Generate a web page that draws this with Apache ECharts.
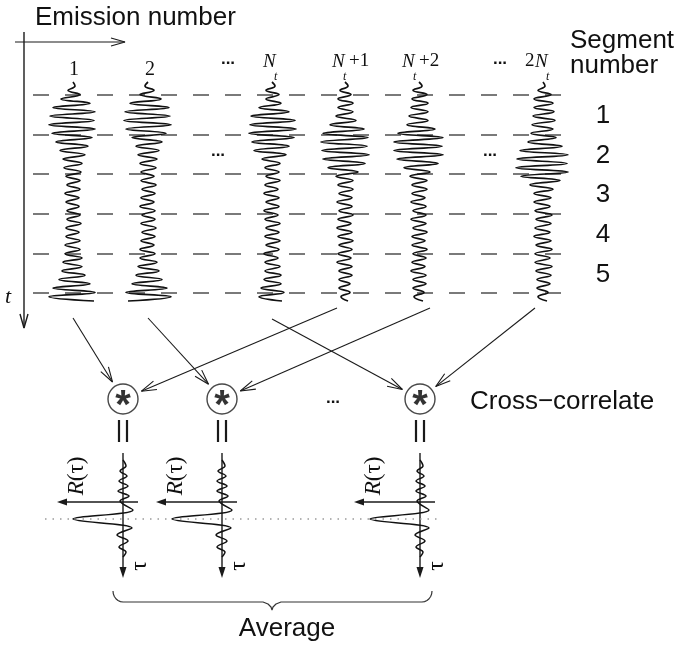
<!DOCTYPE html>
<html><head><meta charset="utf-8">
<script src="https://cdn.jsdelivr.net/npm/echarts@6/dist/echarts.min.js"></script>
<style>html,body{margin:0;padding:0;background:#fff}#c{width:678px;height:650px}</style>
</head><body><div id="c"></div><script>
// ---------- data ----------
const traceCenters = [73, 148, 272, 345, 419, 543];          // emission columns
const segmentBounds = [95, 135, 174, 214, 254, 293];        // segment boundaries (time)
const segmentLabels = ['1', '2', '3', '4', '5'];
const sampleStart = 86, sampleStep = 4.3;                   // time of first peak, peak spacing
const trace1   = [2,-5,7,-12,17,-20,22,-23,21,-24,22,-21,19,-17,15,-13,12,-10,9,-9,8,-7,7,-6,7,-8,6,-7,6,-6,7,-6,8,-7,6,-7,7,-8,7,-8,9,-10,9,-11,12,-14,17,-20,22,-24,21];
const trace2   = [-3,6,-8,13,-18,21,-23,22,-24,23,-22,18,-16,14,-12,11,-10,9,-8,8,-7,6,-7,8,-6,7,-7,6,-8,7,-6,7,-7,8,-6,7,-7,6,-8,7,-8,9,-10,11,-12,14,-16,19,-22,23,-20];
const traceNt  = [3,-6,7,-6,9,-13,17,-21,23,-22,24,-23,22,-20,17,-18,14,-10,8,-7,7,-6,8,-7,6,-8,7,-6,7,-8,6,-7,8,-6,7,-7,8,-6,7,-8,6,-7,8,-7,9,-8,9,-11,12,-13,10];
const traceNt1 = [3,-5,6,-7,8,-7,8,-9,11,-15,19,-22,23,-24,22,-23,24,-22,20,-17,13,-9,8,-7,8,-6,7,-8,7,-6,8,-7,6,-8,7,-7,8,-6,7,-7,6,-8,7,-6,7,-6,5,-6,5,-4,3];
const traceNt2 = [3,-6,8,-7,9,-8,9,-10,9,-12,16,-21,24,-25,23,-25,24,-22,19,-15,11,-9,8,-7,8,-7,6,-8,7,-6,7,-8,7,-6,8,-7,6,-7,8,-6,7,-7,6,-8,7,-6,7,-6,5,-5,4];
const trace2Nt = [2,-5,8,-9,10,-9,11,-10,12,-11,10,-12,13,-15,19,-23,25,-26,24,-27,25,-22,17,-13,10,-9,8,-9,7,-8,9,-7,8,-8,7,-9,8,-7,9,-8,7,-8,9,-7,8,-6,7,-6,5,-5,4];
const traces = [trace1, trace2, traceNt, traceNt1, traceNt2, trace2Nt];

const correlatorX = [123, 222, 420];
const correlatorY = 399;
const links = [[0,0],[3,0],[1,1],[4,1],[2,2],[5,2]];          // [trace, correlator]
const linkStartY = [318, 308, 318, 308, 319, 308];
const linkNudge  = [0, -8, 0, 11, 0, -8];

const corrTau = [460,466,471,476,481,486,491,496,501,510,519,528,535,541,547,552,557];
const corr1 = [0,3,-3,4,-4,5,-5,6,-3,10,-50,9,-6,5,-4,3,0];
const corr2 = [0,3,-4,4,-5,5,-5,6,-3,10,-50,9,-6,5,-5,3,0];
const corr3 = [0,3,-3,4,-4,5,-4,6,-3,9,-50,9,-5,5,-4,3,0];
const corrs = [corr1, corr2, corr3];
const corrAxisY = 502, peakLevel = 519;

// ---------- drawing ----------
const INK = '#1a1a1a';
const series = [];
function seg(pts, w, color, type) {
  series.push({type:'line', data: pts, showSymbol:false, symbol:'none', silent:true, animation:false,
    lineStyle:{width:w||1.2, color: color||INK, type: type||'solid'}, z:3});
}
function head(x1,y1,x2,y2,len,half){
  const dx=x2-x1, dy=y2-y1, L=Math.hypot(dx,dy), ux=dx/L, uy=dy/L;
  const bx=x2-ux*len, by=y2-uy*len;
  return [[bx-uy*half, by+ux*half],[x2,y2],[bx+uy*half, by-ux*half]];
}
function openArrow(x1,y1,x2,y2,len,half,w){ seg([[x1,y1],[x2,y2]], w); seg(head(x1,y1,x2,y2,len,half), w); }
const filledHeads = [];

// dashed segment boundaries
segmentBounds.forEach(y => seg([[33,y],[563,y]], 1.3, '#333', [16,16]));

// traces
traces.forEach((tr, k) => {
  const c = traceCenters[k];
  const pts = [[c, sampleStart - 4]].concat(tr.map((v,i)=>[c+v, sampleStart + i*sampleStep]));
  series.push({type:'line', data: pts, smooth:0.45, showSymbol:false, symbol:'none', silent:true, animation:false,
    lineStyle:{width:1.7, color:'#111'}, z:4});
});

// axes of the top panel
openArrow(15,42,125,42,14,4,1.2);
openArrow(24,32,24,328,14,4,1.4);

// links from traces to correlators
links.forEach(([t,c], i) => {
  const sx = traceCenters[t] + linkNudge[i], sy = linkStartY[i];
  const cx = correlatorX[c], cy = correlatorY;
  const dx = cx - sx, dy = cy - sy, L = Math.hypot(dx, dy);
  const ex = cx - dx/L*20, ey = cy - dy/L*20;
  openArrow(sx, sy, ex, ey, 15, 4.5, 1.1);
});

// correlators: "=" and R(tau) plots
correlatorX.forEach((c, k) => {
  seg([[c-4,420],[c-4,442]], 2.2);
  seg([[c+4,420],[c+4,442]], 2.2);
  seg([[c,453],[c,570]], 1.4);
  filledHeads.push(head(c,453,c,578,11,3.5));
  seg([[c+15,corrAxisY],[c-58,corrAxisY]], 1.4);
  filledHeads.push(head(c+15,corrAxisY,c-66,corrAxisY,10,3.5));
  series.push({type:'line', data: corrs[k].map((v,i)=>[c+v, corrTau[i]]), smooth:0.35, showSymbol:false, symbol:'none',
    silent:true, animation:false, lineStyle:{width:1.5, color:'#111'}, z:4});
});
// dotted peak level
seg([[45,peakLevel],[440,peakLevel]], 1.4, '#9a9a9a', [1.5,6]);

// brace
(function(){
  const L = 113, R = 432, tip = 272, top = 591, mid = 602, r = 10, pts = [];
  for (let a = 180; a >= 90; a -= 15) { const t=a*Math.PI/180; pts.push([L+r+r*Math.cos(t), top+r*Math.sin(t)*(mid-top)/r]); }
  pts.push([tip-9, mid],[tip-4, mid+2],[tip-1, mid+5],[tip, mid+8],[tip+1, mid+5],[tip+4, mid+2],[tip+9, mid]);
  for (let a = 90; a >= 0; a -= 15) { const t=a*Math.PI/180; pts.push([R-r+r*Math.cos(Math.PI-t)*-1, top+r*Math.sin(t)*(mid-top)/r]); }
  seg(pts, 1.2, '#333');
})();

series.push({type:'custom', silent:true, animation:false, z:5, data: filledHeads.map((_,i)=>[i]),
  renderItem: (params, api) => ({type:'polygon', shape:{points: filledHeads[params.dataIndex].map(p=>api.coord(p))}, style:{fill:INK}})});

// correlator circles
series.push({type:'scatter', data: correlatorX.map(x=>[x, correlatorY]), symbol:'circle', symbolSize:30, silent:true, animation:false, z:6,
  itemStyle:{color:'#fff', borderColor:INK, borderWidth:1.4},
  label:{show:true, position:'inside', formatter:'*', fontFamily:'Liberation Sans', fontWeight:'bold', fontSize:40, color:'#000', offset:[0,8]}});

// ---------- texts ----------
const SANS = 'Liberation Sans', SERIF = 'Liberation Serif';
const graphic = [];
function txt(s, x, y, o) {
  o = o || {};
  graphic.push({type:'text', x, y, rotation:o.rot||0, silent:true, z:10,
    style:{text:s, fontFamily:o.ff||SANS, fontSize:o.fs||26, fontStyle:o.it?'italic':'normal', fontWeight:o.fw||'normal',
      fill:o.color||'#111', align:o.align||'left', verticalAlign:'middle', rich:o.rich}});
}
txt('Emission number', 35, 18);
txt('Segment', 570, 41);
txt('number', 570, 66);
segmentLabels.forEach((s,i)=> txt(s, 603, (segmentBounds[i]+segmentBounds[i+1])/2 + 1, {align:'center'}));
txt('Cross\u2212correlate', 470, 402);
txt('Average', 287, 629, {align:'center'});
txt('t', 8, 297, {ff:SERIF, it:true, fs:22, align:'center'});
// ellipses
[[228,63],[500,63],[218,155],[490,155],[333,402]].forEach(p=>txt('...', p[0], p[1]-4, {fw:'bold', fs:17, align:'center'}));
// column labels
txt('1', 74, 70, {ff:SERIF, fs:20, align:'center'});
txt('2', 150, 70, {ff:SERIF, fs:20, align:'center'});
const nLabels = [[263,''],[332,'+1'],[402,'+2'],[535,'']];
nLabels.forEach(([x,suf],i)=>{
  txt('N', x, 62, {ff:SERIF, it:true, fs:19});
  txt('t', x+11, 77, {ff:SERIF, it:true, fs:12});
  if (suf) txt(suf, x+17, 61, {ff:SERIF, fs:19});
});
txt('2', 525, 61, {ff:SERIF, fs:19});
// R(tau), tau labels
correlatorX.forEach(c => {
  txt('{i|R}(\u03c4)', c-46, 476, {ff:SERIF, fs:23, align:'center', rot:Math.PI/2, rich:{i:{fontStyle:'italic', fontFamily:SERIF, fontSize:23}}});
  txt('\u03c4', c+17, 566, {ff:SERIF, fs:24, align:'center', rot:Math.PI/2});
});

const chart = echarts.init(document.getElementById('c'), null, {renderer:'canvas'});
chart.setOption({
  animation:false, backgroundColor:'#fff',
  grid:{left:0, right:0, top:0, bottom:0, containLabel:false},
  xAxis:{type:'value', min:0, max:678, show:false},
  yAxis:{type:'value', min:0, max:650, inverse:true, show:false},
  series, graphic
});
</script></body></html>
